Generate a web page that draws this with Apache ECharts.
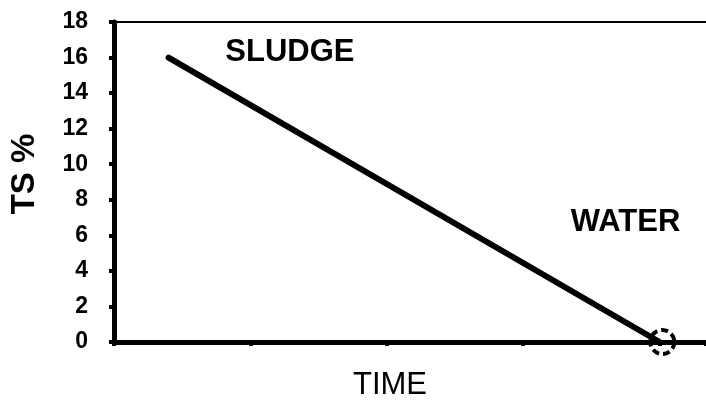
<!DOCTYPE html>
<html>
<head>
<meta charset="utf-8">
<script src="https://cdn.jsdelivr.net/npm/echarts@6/dist/echarts.min.js"></script>
<style>
    html, body { margin: 0; padding: 0; background: #fff; }
    #container { width: 706px; height: 401px; }
</style>
</head>
<body>
<div id="container"></div>
<script type="text/javascript">
    // data
    var linePoints = [[0.4, 16], [4, 0]];
    var waterPoint = [[4.02, 0]];
    var notes = [
        { name: 'SLUDGE', value: [1.29, 16.28] },
        { name: 'WATER', value: [3.75, 6.72] }
    ];
    var yTicks = [0, 2, 4, 6, 8, 10, 12, 14, 16, 18];

    var dom = document.getElementById('container');
    var myChart = echarts.init(dom);
    var font = '"Liberation Sans", Arial, sans-serif';

    var option = {
        animation: false,
        grid: { left: 114, right: 0, top: 22, bottom: 59 },
        xAxis: [
            {
                type: 'value',
                min: 0,
                max: 4.34,
                interval: 1,
                splitLine: { show: false },
                axisLine: { lineStyle: { color: '#000', width: 5 } },
                axisTick: { inside: false, length: 4, lineStyle: { color: '#000', width: 4 } },
                axisLabel: { show: false }
            },
            {
                type: 'value',
                position: 'top',
                min: 0,
                max: 4.34,
                splitLine: { show: false },
                axisLine: { show: true, lineStyle: { color: '#000', width: 2 } },
                axisTick: { show: false },
                axisLabel: { show: false }
            }
        ],
        yAxis: {
            type: 'value',
            min: yTicks[0],
            max: yTicks[yTicks.length - 1],
            interval: 2,
            name: 'TS %',
            nameLocation: 'middle',
            nameGap: 73,
            nameRotate: 90,
            nameTextStyle: { fontFamily: font, fontSize: 33, fontWeight: 'bold', color: '#000', padding: [0, 0, 0, 16] },
            splitLine: { show: false },
            axisLine: { show: true, lineStyle: { color: '#000', width: 5 } },
            axisTick: { show: true, length: 5, lineStyle: { color: '#000', width: 4 } },
            axisLabel: { margin: 26, fontFamily: font, fontSize: 23, fontWeight: 'bold', color: '#000' }
        },
        graphic: [
            {
                type: 'text',
                x: 390,
                y: 385,
                style: { text: 'TIME', font: '31px ' + font, fill: '#000', textAlign: 'center', textVerticalAlign: 'middle' }
            }
        ],
        series: [
            {
                type: 'line',
                data: linePoints,
                symbol: 'none',
                lineStyle: { color: '#000', width: 6, cap: 'round' },
                z: 3
            },
            {
                type: 'scatter',
                data: waterPoint,
                symbol: 'circle',
                symbolSize: 24,
                itemStyle: { opacity: 1, color: 'rgba(0,0,0,0)', borderColor: '#000', borderWidth: 4, borderType: [7, 4] },
                z: 4
            },
            {
                type: 'scatter',
                data: notes,
                symbolSize: 0,
                itemStyle: { opacity: 1 },
                label: {
                    show: true,
                    position: 'inside',
                    formatter: '{b}',
                    fontFamily: font,
                    fontSize: 31,
                    fontWeight: 'bold',
                    color: '#000'
                }
            }
        ]
    };

    if (option && typeof option === 'object') {
        myChart.setOption(option);
    }
</script>
</body>
</html>
